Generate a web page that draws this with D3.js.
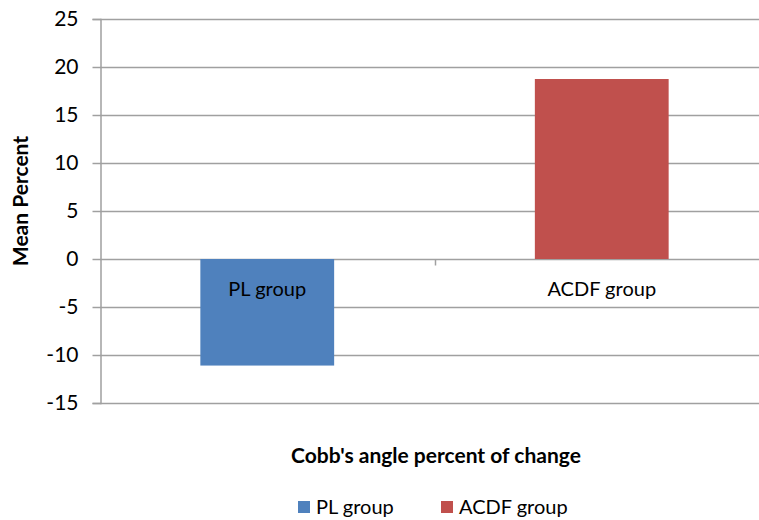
<!DOCTYPE html>
<html><head><meta charset="utf-8">
<script src="https://cdn.jsdelivr.net/npm/d3@7"></script>
<style>body{margin:0;background:#fff;} svg{display:block;font-family:Lato,"Open Sans",sans-serif;}</style>
</head><body>
<svg id="c" width="759" height="520"></svg>
<script>
const categories = ["PL group", "ACDF group"];
const values = [-11.1, 18.75];
const colors = ["#4f81bd", "#c0504d"];
const yTicks = [-15, -10, -5, 0, 5, 10, 15, 20, 25];
const yTitle = "Mean Percent";
const xTitle = "Cobb's angle percent of change";

(function () {
const svg = d3.select("#c");
const pLeft = 100, pRight = 769, pTop = 19, pBottom = 403;
const y = d3.scaleLinear().domain([-15, 25]).range([pBottom, pTop]);
const x = d3.scaleBand().domain(categories).range([pLeft, pRight]).paddingInner(0.6).paddingOuter(0.3);
const grid = "#a0a0a0";

// gridlines
svg.append("g").selectAll("line").data(yTicks).join("line")
  .attr("x1", pLeft).attr("x2", 759)
  .attr("y1", d => Math.round(y(d)) + 0.5).attr("y2", d => Math.round(y(d)) + 0.5)
  .attr("stroke", grid).attr("stroke-width", 1.5);

// y axis
const ya = svg.append("g").attr("transform", `translate(${pLeft + 0.5},0)`)
  .call(d3.axisLeft(y).tickValues(yTicks).tickSize(8).tickPadding(14).tickFormat(d => String(d)));
ya.select(".domain").attr("stroke", grid).attr("stroke-width", 1.5);
ya.selectAll(".tick line").attr("stroke", grid).attr("stroke-width", 1.5);
ya.selectAll(".tick text").attr("font-size", 21).attr("fill", "#000").attr("font-family", "Lato");

// bars
svg.append("g").selectAll("rect").data(categories).join("rect")
  .attr("x", d => x(d)).attr("width", x.bandwidth())
  .attr("y", (d, i) => y(Math.max(0, values[i])))
  .attr("height", (d, i) => Math.abs(y(values[i]) - y(0)))
  .attr("fill", (d, i) => colors[i]);

// category axis at zero
const zy = Math.round(y(0)) + 0.5;
const mid = x(categories[1]) - x.step() * x.paddingInner() / 2;
svg.append("line")
  .attr("x1", Math.round(mid) + 0.5).attr("x2", Math.round(mid) + 0.5)
  .attr("y1", zy).attr("y2", zy + 6).attr("stroke", grid).attr("stroke-width", 1.5);
svg.append("g").selectAll("text").data(categories).join("text")
  .attr("x", d => x(d) + x.bandwidth() / 2).attr("y", 296)
  .attr("text-anchor", "middle").attr("font-size", 20).text(d => d);

// axis titles
svg.append("text").attr("transform", "translate(28,201) rotate(-90)")
  .attr("text-anchor", "middle").attr("font-size", 21).attr("font-weight", "bold").text(yTitle);
svg.append("text").attr("x", 436).attr("y", 463)
  .attr("text-anchor", "middle").attr("font-size", 21).attr("font-weight", "bold").text(xTitle);

// legend
const lx = [298, 441];
const lg = svg.append("g").selectAll("g").data(categories).join("g")
  .attr("transform", (d, i) => `translate(${lx[i]},501)`);
lg.append("rect").attr("width", 12).attr("height", 12).attr("fill", (d, i) => colors[i]);
lg.append("text").attr("x", 18).attr("y", 13).attr("font-size", 20).text(d => d);
})();
</script>
</body></html>
